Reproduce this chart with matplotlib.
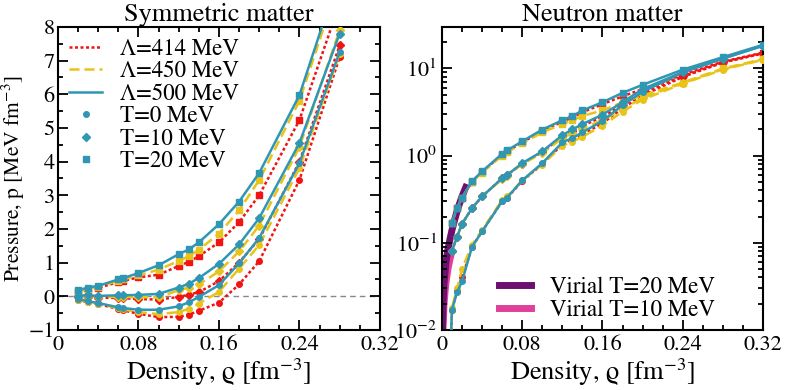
"""Pressure vs density for symmetric and neutron matter at several temperatures."""

import matplotlib
matplotlib.use("Agg")
import matplotlib.pyplot as plt
from matplotlib.lines import Line2D
from matplotlib.ticker import MultipleLocator

plt.rcParams["font.family"] = ["STIXGeneral", "DejaVu Serif"]
plt.rcParams["mathtext.fontset"] = "stix"

# ---- symmetric matter ----
sm_rho = [0.02, 0.03, 0.04, 0.06, 0.065, 0.08, 0.10, 0.12, 0.13, 0.14, 0.16, 0.18, 0.20, 0.24, 0.28]
sm_p = {
    (414, 20): [0.13, 0.20, 0.25, 0.42, 0.46, 0.56, 0.64, 0.90, 1.02, 1.19, 1.60, 2.20, 3.00, 5.23, 8.7],
    (450, 20): [0.15, 0.23, 0.28, 0.46, 0.50, 0.62, 0.79, 1.05, 1.19, 1.38, 1.86, 2.55, 3.45, 5.80, 9.4],
    (500, 20): [0.18, 0.26, 0.31, 0.50, 0.54, 0.69, 0.92, 1.25, 1.39, 1.60, 2.14, 2.81, 3.66, 5.97, 9.6],
    (414, 10): [-0.02, -0.02, -0.04, -0.05, -0.06, -0.08, -0.10, -0.02, 0.05, 0.12, 0.45, 1.00, 1.70, 3.99, 7.45],
    (450, 10): [0.00, 0.00, -0.02, -0.02, -0.02, -0.03, -0.03, 0.18, 0.26, 0.35, 0.74, 1.33, 2.10, 4.43, 7.9],
    (500, 10): [0.02, 0.03, 0.01, 0.03, 0.03, 0.04, 0.07, 0.26, 0.37, 0.54, 0.96, 1.54, 2.32, 4.55, 7.8],
    (414, 0): [-0.12, -0.18, -0.23, -0.38, -0.42, -0.52, -0.62, -0.61, -0.55, -0.43, -0.19, 0.35, 1.04, 3.45, 7.1],
    (450, 0): [-0.11, -0.17, -0.22, -0.36, -0.39, -0.47, -0.53, -0.47, -0.37, -0.22, 0.13, 0.82, 1.52, 3.80, 7.2],
    (500, 0): [-0.08, -0.15, -0.20, -0.33, -0.35, -0.40, -0.40, -0.30, -0.18, -0.02, 0.33, 0.98, 1.73, 3.95, 7.25],
}

# ---- neutron matter ----
nm_rho = [0.01, 0.015, 0.02, 0.03, 0.04, 0.06, 0.065, 0.08, 0.10, 0.12, 0.13, 0.14, 0.16, 0.18, 0.20, 0.24, 0.28, 0.32]
nm_p = {
    (414, 20): [0.17, 0.25, 0.33, 0.50, 0.65, 1.03, 1.12, 1.42, 1.92, 2.45, 2.75, 3.15, 3.9, 4.8, 5.8, 8.5, 12.0, 15.2],
    (450, 20): [0.17, 0.25, 0.33, 0.50, 0.64, 1.00, 1.09, 1.38, 1.85, 2.30, 2.55, 2.85, 3.3, 4.1, 4.9, 6.9, 10.0, 12.8],
    (500, 20): [0.17, 0.25, 0.33, 0.51, 0.66, 1.05, 1.15, 1.46, 1.99, 2.55, 2.85, 3.3, 4.1, 5.25, 6.5, 9.7, 13.5, 18.7],
    (414, 10): [0.081, 0.117, 0.165, 0.25, 0.34, 0.55, 0.60, 0.81, 1.10, 1.65, 1.92, 2.2, 2.8, 3.8, 5.2, 8.2, 11.8, 15.0],
    (450, 10): [0.081, 0.117, 0.165, 0.25, 0.34, 0.54, 0.59, 0.80, 1.07, 1.58, 1.82, 2.05, 2.55, 3.4, 4.6, 6.8, 9.8, 12.7],
    (500, 10): [0.081, 0.117, 0.165, 0.25, 0.34, 0.55, 0.60, 0.82, 1.12, 1.72, 2.0, 2.3, 2.95, 4.1, 5.8, 9.1, 13.0, 18.3],
    (414, 0): [0.017, 0.028, 0.040, 0.09, 0.135, 0.30, 0.33, 0.51, 0.80, 1.35, 1.52, 1.75, 2.35, 3.5, 4.9, 8.0, 11.7, 14.9],
    (450, 0): [0.018, 0.030, 0.050, 0.095, 0.14, 0.31, 0.34, 0.52, 0.79, 1.30, 1.45, 1.65, 2.2, 3.2, 4.4, 6.7, 9.7, 12.6],
    (500, 0): [0.017, 0.027, 0.036, 0.09, 0.135, 0.30, 0.33, 0.52, 0.82, 1.42, 1.59, 1.85, 2.5, 3.8, 5.4, 9.0, 13.0, 18.2],
}
# T=0 curves drop through the bottom of the log axis just below the first point
nm_low_rho = 0.009
nm_low_p = 0.0085

virial20_rho = [0.0005, 0.001, 0.002, 0.004, 0.006, 0.008, 0.010, 0.013, 0.016, 0.020, 0.025]
virial20_p = [0.010, 0.018, 0.033, 0.060, 0.085, 0.11, 0.14, 0.19, 0.25, 0.34, 0.47]
virial10_rho = [0.001, 0.002, 0.003, 0.004, 0.006, 0.008, 0.010]
virial10_p = [0.010, 0.019, 0.027, 0.035, 0.050, 0.065, 0.080]

cutoffs = [414, 450, 500]
temps = [0, 10, 20]
colors = {414: "#f01414", 450: "#e8c31a", 500: "#2f97b4"}
styles = {414: (0, (1.2, 1.0)), 450: (0, (4, 2)), 500: "-"}
markers = {0: "o", 10: "D", 20: "s"}
msizes = {0: 4.0, 10: 3.8, 20: 4.0}


def style_axes(ax):
    ax.tick_params(which="both", direction="in", top=True, right=True, labelsize=16, width=1.3)
    ax.tick_params(which="major", length=7)
    ax.tick_params(which="minor", length=3.5)
    for s in ax.spines.values():
        s.set_linewidth(1.5)


fig = plt.figure(figsize=(7.85, 3.9), dpi=100)
ax1 = fig.add_axes([0.0739, 0.154, 0.410, 0.777])
ax2 = fig.add_axes([0.563, 0.154, 0.409, 0.777])

# left panel
ax1.axhline(0, color="#888888", ls=(0, (4, 3)), lw=1.0, zorder=1)
for lam in cutoffs:
    for t in temps:
        ax1.plot(sm_rho, sm_p[(lam, t)], color=colors[lam], ls=styles[lam], lw=1.8,
                 marker=markers[t], ms=msizes[t], zorder=2 + cutoffs.index(lam))
ax1.set_xlim(0, 0.32)
ax1.set_ylim(-1, 8)
ax1.set_xticks([0, 0.08, 0.16, 0.24, 0.32])
ax1.set_xticklabels(["0", "0.08", "0.16", "0.24", "0.32"])
ax1.xaxis.set_minor_locator(MultipleLocator(0.02))
ax1.yaxis.set_major_locator(MultipleLocator(1))
ax1.yaxis.set_minor_locator(MultipleLocator(0.5))
ax1.set_xlabel(r"Density, ϱ [fm$^{-3}$]", fontsize=19, labelpad=1)
ax1.set_ylabel(r"Pressure, p [MeV fm$^{-3}$]", fontsize=15.5)
ax1.yaxis.set_label_coords(-0.097, 0.5)
ax1.set_title("Symmetric matter", fontsize=19, pad=2)
style_axes(ax1)
ax1.tick_params(axis="y", which="major", pad=2.5)

handles = [Line2D([], [], color=colors[lam], ls=styles[lam], lw=1.8) for lam in cutoffs]
handles += [Line2D([], [], color=colors[500], ls="none", marker=markers[t], ms=msizes[t]) for t in temps]
labels = [f"Λ={lam} MeV" for lam in cutoffs] + [f"T={t} MeV" for t in temps]
ax1.legend(handles, labels, loc="upper left", fontsize=16.5, frameon=False, handlelength=1.4,
           labelspacing=0.05, borderaxespad=0.1, handletextpad=0.8)

# right panel
ax2.plot(virial10_rho, virial10_p, color="#e0409a", lw=5, solid_capstyle="butt", zorder=1)
ax2.plot(virial20_rho, virial20_p, color="#6d0f70", lw=5, solid_capstyle="butt", zorder=1.5)
for lam in cutoffs:
    for t in temps:
        x = list(nm_rho)
        y = list(nm_p[(lam, t)])
        if t == 0:
            x = [nm_low_rho] + x
            y = [nm_low_p] + y
        ax2.plot(x, y, color=colors[lam], ls=styles[lam], lw=1.8,
                 marker=markers[t], ms=msizes[t], zorder=2 + cutoffs.index(lam))
ax2.set_yscale("log")
ax2.set_xlim(0, 0.32)
ax2.set_ylim(0.01, 30)
ax2.set_xticks([0, 0.08, 0.16, 0.24, 0.32])
ax2.set_xticklabels(["0", "0.08", "0.16", "0.24", "0.32"])
ax2.xaxis.set_minor_locator(MultipleLocator(0.02))
ax2.set_xlabel(r"Density, ϱ [fm$^{-3}$]", fontsize=19, labelpad=1)
ax2.set_title("Neutron matter", fontsize=19, pad=2)
style_axes(ax2)

vh = [Line2D([], [], color="#6d0f70", lw=5), Line2D([], [], color="#e0409a", lw=5)]
ax2.legend(vh, ["Virial T=20 MeV", "Virial T=10 MeV"], loc="lower left", fontsize=16.5,
           frameon=False, handlelength=1.4, labelspacing=0.05, borderaxespad=0.0,
           handletextpad=0.8, bbox_to_anchor=(0.15, 0.0))

fig.savefig("out.png", dpi=100)
